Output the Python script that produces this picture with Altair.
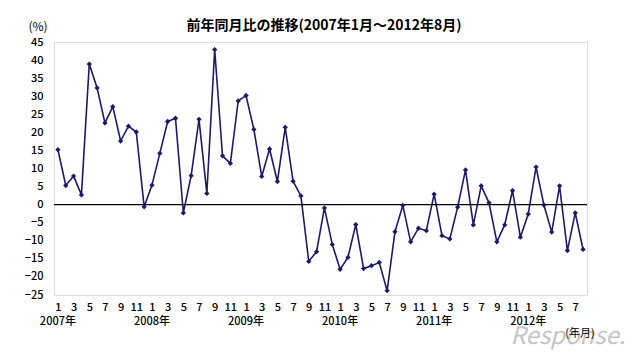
import altair as alt
import pandas as pd

# Monthly year-on-year change (%), Jan 2007 - Aug 2012
values = [15.2, 5.3, 7.9, 2.7, 38.9, 32.3, 22.6, 27.1, 17.6, 21.7, 20.1, -0.6,
          5.4, 14.2, 23.0, 23.9, -2.3, 8.0, 23.6, 3.1, 42.9, 13.5, 11.4, 28.7,
          30.2, 20.8, 7.8, 15.4, 6.4, 21.4, 6.5, 2.4, -15.7, -13.0, -0.9, -11.0,
          -17.9, -14.6, -5.5, -17.7, -16.9, -16.0, -23.8, -7.5, -0.2, -10.3, -6.5, -7.2,
          2.9, -8.6, -9.5, -0.7, 9.6, -5.6, 5.2, 0.5, -10.3, -5.6, 3.9, -9.0,
          -2.6, 10.4, -0.1, -7.6, 5.2, -12.7, -2.3, -12.4]
years = ["2007年", "2008年", "2009年", "2010年", "2011年", "2012年"]
y_ticks = list(range(-25, 50, 5))
month_tick_idx = list(range(0, 68, 2))

FONT = "Noto Sans CJK JP"
NAVY = "#1b1b6a"

df = pd.DataFrame({"idx": list(range(len(values))), "value": values})
year_df = pd.DataFrame({"idx": [12 * i for i in range(len(years))], "label": years})

W, H = 533, 253

xscale = alt.Scale(domain=[-0.5, 67.5], nice=False, zero=False)
yscale = alt.Scale(domain=[-25, 45], nice=False, zero=False)

xaxis = alt.Axis(values=month_tick_idx, labelExpr="(datum.value % 12) + 1",
                 title=None, ticks=False, domain=False, grid=False,
                 labelPadding=6, labelFontSize=11, labelFont=FONT, labelFontWeight=500,
                 labelColor="#000", labelOverlap=False, labelFlush=False)
yaxis = alt.Axis(values=y_ticks, title=None, ticks=False, domain=False,
                 grid=False, labelPadding=11, labelFontSize=11, labelFontWeight=500,
                 labelFont=FONT, labelColor="#000", labelOverlap=False,
                 labelFlush=False)

def X(field="idx:Q"):
    return alt.X(field, scale=xscale, axis=xaxis)

def Y(field="value:Q"):
    return alt.Y(field, scale=yscale, axis=yaxis)

base = alt.Chart(df)

line = base.mark_line(color=NAVY, strokeWidth=1.6).encode(x=X(), y=Y())
points = base.mark_point(shape="diamond", filled=True, color=NAVY, size=28,
                         opacity=1).encode(x=X(), y=Y())

zero = alt.Chart(pd.DataFrame({"z": [0]})).mark_rule(color="#000", strokeWidth=1.2).encode(
    y=Y("z:Q")
)

year_labels = alt.Chart(year_df).mark_text(font=FONT, fontSize=11, color="#000",
                                           fontWeight=500, baseline="middle").encode(
    x=X(),
    y=alt.value(H + 27),
    text="label:N",
)

def label(txt, x, y, size=11, weight="normal", color="#000", align="center", style="normal"):
    return alt.Chart(pd.DataFrame({"t": [txt]})).mark_text(
        font=FONT, fontSize=size, fontWeight=weight, color=color, align=align,
        baseline="middle", fontStyle=style
    ).encode(x=alt.value(x), y=alt.value(y), text="t:N")

title = label("前年同月比の推移(2007年1月～2012年8月)", 270, -16, size=14, weight="bold")
pct = label("(%)", -16, -15, size=12)
watermark = label("Response.", 514, 295, size=24, color="#c4c4c4", style="italic")
unit = label("(年月)", 526, 292, size=11)

chart = alt.layer(line, zero, points, year_labels, title, pct, watermark, unit).properties(
    width=W, height=H,
    autosize=alt.AutoSizeParams(type="none"),
    padding={"left": 54, "top": 42, "right": 45, "bottom": 57},
).configure_view(stroke="#111", strokeWidth=1.5).configure(background="white")

chart.save("out.html", embed_options={"renderer": "svg", "actions": False})
